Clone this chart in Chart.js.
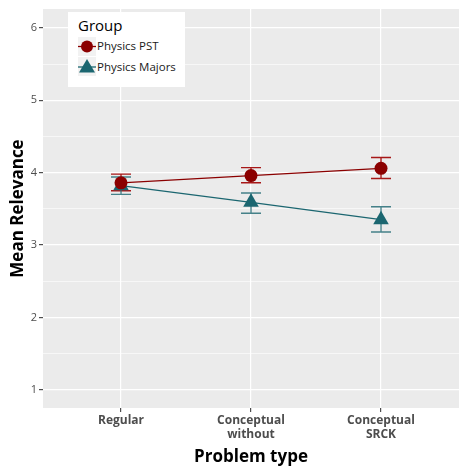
<!DOCTYPE html>
<html>
<head>
<meta charset="utf-8">
<script src="https://cdn.jsdelivr.net/npm/chart.js@4.4.1/dist/chart.umd.min.js"></script>
<style>
  html, body { margin: 0; padding: 0; background: #fff; }
  #wrap { position: relative; width: 459px; height: 467px; font-family: "Open Sans", sans-serif; }
  #legend { position: absolute; left: 68px; top: 12px; width: 117px; height: 75px; background: #fff; }
  #legend .title { position: absolute; left: 10px; top: 3px; font-size: 15px; color: #000; }
  #legend .row { position: absolute; left: 10px; height: 20px; font-size: 11.5px; color: #1a1a1a; line-height: 20px; }
  #legend .row svg { vertical-align: top; }
  #legend .row span { position: absolute; left: 19px; top: 0; white-space: nowrap; }
</style>
</head>
<body>
<div id="wrap">
  <canvas id="chart" width="459" height="467"></canvas>
  <div id="legend">
    <div class="title">Group</div>
    <div class="row" style="top:24px">
      <svg width="18" height="20"><rect x="0" y="1" width="18" height="19" fill="#f2f2f2"/><line x1="0" y1="10.5" x2="18" y2="10.5" stroke="#8b0000" stroke-width="1.3"/><circle cx="9" cy="10.5" r="6" fill="#8b0000"/></svg><span>Physics PST</span>
    </div>
    <div class="row" style="top:45px">
      <svg width="18" height="20"><rect x="0" y="0" width="18" height="19" fill="#f2f2f2"/><line x1="0" y1="10" x2="18" y2="10" stroke="#1b6670" stroke-width="1.3"/><polygon points="9,2 17,15.5 1,15.5" fill="#1b6670"/></svg><span>Physics Majors</span>
    </div>
  </div>
</div>
<script>
const categories = ['Regular', ['Conceptual', 'without'], ['Conceptual', 'SRCK']];
const groups = ['Physics PST', 'Physics Majors'];
const pstMean = [3.86, 3.96, 4.06];
const pstLow = [3.75, 3.86, 3.92];
const pstHigh = [3.98, 4.07, 4.21];
const majMean = [3.82, 3.59, 3.35];
const majLow = [3.70, 3.44, 3.18];
const majHigh = [3.94, 3.72, 3.53];
const yTicks = [1, 1.5, 2, 2.5, 3, 3.5, 4, 4.5, 5, 5.5, 6];

const RED = '#8b0000';
const TEAL = '#1b6670';

function pts(arr) {
    return arr.map((v, i) => ({ x: i, y: v }));
}

// draws error bars under the points using the chart scales
const errorBars = {
    id: 'errorBars',
    beforeDatasetsDraw(chart) {
        const ctx = chart.ctx;
        const xs = chart.scales.x, ys = chart.scales.y;
        const sets = [[pstLow, pstHigh, 'rgba(160,0,0,0.9)'], [majLow, majHigh, 'rgba(40,110,120,0.85)']];
        ctx.save();
        ctx.lineWidth = 1.4;
        for (const [lo, hi, col] of sets) {
            ctx.strokeStyle = col;
            for (let i = 0; i < lo.length; i++) {
                const x = xs.getPixelForValue(i);
                const y1 = ys.getPixelForValue(lo[i]);
                const y2 = ys.getPixelForValue(hi[i]);
                ctx.beginPath();
                ctx.moveTo(x, y1); ctx.lineTo(x, y2);
                ctx.moveTo(x - 10, y1); ctx.lineTo(x + 10, y1);
                ctx.moveTo(x - 10, y2); ctx.lineTo(x + 10, y2);
                ctx.stroke();
            }
        }
        ctx.restore();
    }
};

const panelBg = {
    id: 'panelBg',
    beforeDraw(chart) {
        const a = chart.chartArea;
        chart.ctx.save();
        chart.ctx.fillStyle = '#ebebeb';
        chart.ctx.fillRect(a.left, a.top, a.right - a.left, a.bottom - a.top);
        chart.ctx.restore();
    }
};

new Chart(document.getElementById('chart'), {
    type: 'line',
    data: {
        datasets: [
            {
                label: groups[0], data: pts(pstMean), borderColor: RED, backgroundColor: RED,
                borderWidth: 1.3, pointStyle: 'circle', pointRadius: 6.5, pointHoverRadius: 6.5, pointBorderWidth: 0
            },
            {
                label: groups[1], data: pts(majMean), borderColor: TEAL, backgroundColor: TEAL,
                borderWidth: 1.3, pointStyle: 'triangle', pointRadius: 9, pointHoverRadius: 9, pointBorderWidth: 0
            }
        ]
    },
    options: {
        responsive: false,
        animation: false,
        layout: { autoPadding: false, padding: { top: 9, right: -5, left: 0, bottom: 0 } },
        plugins: { legend: { display: false }, tooltip: { enabled: false } },
        scales: {
            x: {
                type: 'linear', min: -0.6, max: 2.6,
                afterBuildTicks: s => { s.ticks = categories.map((c, i) => ({ value: i })); },
                afterFit: s => { s.height = 59; s.paddingLeft = 0; s.paddingRight = 0; },
                ticks: {
                    callback: v => categories[v],
                    color: '#4d4d4d', font: { family: 'Open Sans', size: 12, weight: 'bold' },
                    padding: 1, maxRotation: 0
                },
                grid: { color: '#ffffff', lineWidth: 1.2, tickColor: '#4d4d4d', tickLength: 4, drawOnChartArea: true },
                border: { display: false },
                title: { display: true, text: 'Problem type', color: '#000', font: { family: 'Open Sans', size: 17, weight: 'bold' }, padding: { top: 3, bottom: 0 } }
            },
            y: {
                min: 0.75, max: 6.26,
                afterBuildTicks: s => { s.ticks = yTicks.map(v => ({ value: v })); },
                afterFit: s => { s.width = 43; s.paddingTop = 0; s.paddingBottom = 0; },
                ticks: {
                    callback: v => Number.isInteger(v) ? String(v) : '',
                    color: '#4d4d4d', font: { family: 'Open Sans', size: 11 }, padding: 2
                },
                grid: {
                    color: '#ffffff',
                    lineWidth: c => Number.isInteger(c.tick.value) ? 1.2 : 0.6,
                    tickColor: c => Number.isInteger(c.tick.value) ? '#4d4d4d' : 'rgba(0,0,0,0)',
                    tickLength: 4
                },
                border: { display: false },
                title: { display: true, text: 'Mean Relevance', color: '#000', font: { family: 'Open Sans', size: 17, weight: 'bold' }, padding: { top: 8, bottom: 1 } }
            }
        }
    },
    plugins: [panelBg, errorBars]
});
</script>
</body>
</html>
